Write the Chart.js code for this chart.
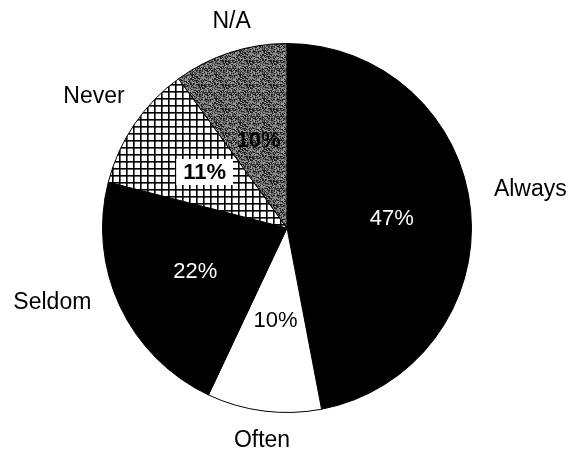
<!DOCTYPE html>
<html>
<head>
<meta charset="utf-8">
<script src="https://cdn.jsdelivr.net/npm/chart.js@4"></script>
<style>
  html, body { margin: 0; padding: 0; background: #fff; }
  canvas { display: block; }
</style>
</head>
<body>
<canvas id="pieChart" width="571" height="458"></canvas>
<script>
const categories = ['Always', 'Often', 'Seldom', 'Never', 'N/A'];
const shares = [47, 10, 22, 11, 10];

// label placement: angle shift (deg) and radius factor for the outer names,
// radius factor for the percentages inside the slices
const nameShift = [-3.5, -0.5, 7.5, 0, 3];
const nameRadius = [1.335, 1.16, 1.335, 1.265, 1.16];
const valueRadius = [0.57, 0.5, 0.55, 0.54, 0.5];
const valueColor = ['#fff', '#000', '#fff', '#000', '#000'];
const valueWeight = ['normal', 'normal', 'normal', 'bold', 'bold'];

function crosshatch() {
  const c = document.createElement('canvas');
  c.width = 7; c.height = 7;
  const g = c.getContext('2d');
  g.fillStyle = '#fff';
  g.fillRect(0, 0, 7, 7);
  g.fillStyle = '#000';
  g.fillRect(0, 0, 7, 1.6);
  g.fillRect(0, 0, 1.6, 7);
  return g.createPattern(c, 'repeat');
}

function stipple() {
  const c = document.createElement('canvas');
  c.width = 24; c.height = 24;
  const g = c.getContext('2d');
  const img = g.createImageData(24, 24);
  for (let j = 0; j < 24; j++) {
    for (let i = 0; i < 24; i++) {
      const h = Math.sin(i * 12.9898 + j * 78.233) * 43758.5453;
      const f = h - Math.floor(h);
      const v = f < 0.35 ? 35 : (f < 0.7 ? 100 : 150);
      const k = (j * 24 + i) * 4;
      img.data[k] = img.data[k + 1] = img.data[k + 2] = v;
      img.data[k + 3] = 255;
    }
  }
  g.putImageData(img, 0, 0);
  return g.createPattern(c, 'repeat');
}

const ctx = document.getElementById('pieChart').getContext('2d');
const fills = ['#000', '#fff', '#000', crosshatch(), stipple()];

const sliceLabels = {
  id: 'sliceLabels',
  afterDatasetsDraw(chart) {
    const g = chart.ctx;
    const arcs = chart.getDatasetMeta(0).data;
    g.save();
    g.textBaseline = 'middle';
    g.textAlign = 'center';
    arcs.forEach((arc, i) => {
      const mid = (arc.startAngle + arc.endAngle) / 2;
      const R = arc.outerRadius;

      // percentage inside the slice
      const vx = arc.x + Math.cos(mid) * R * valueRadius[i];
      const vy = arc.y + Math.sin(mid) * R * valueRadius[i];
      const txt = shares[i] + '%';
      g.font = valueWeight[i] + ' 22px "Liberation Sans", Arial, sans-serif';
      if (i === 3) {
        const w = g.measureText(txt).width;
        g.fillStyle = '#fff';
        g.fillRect(vx - w / 2 - 7, vy - 13, w + 14, 26);
      }
      g.fillStyle = valueColor[i];
      g.fillText(txt, vx, vy + 1);

      // category name outside the pie
      const a = mid + nameShift[i] * Math.PI / 180;
      const nx = arc.x + Math.cos(a) * R * nameRadius[i];
      const ny = arc.y + Math.sin(a) * R * nameRadius[i];
      g.font = '23px "Liberation Sans", Arial, sans-serif';
      g.fillStyle = '#000';
      g.fillText(categories[i], nx, ny);
    });
    g.restore();
  }
};

new Chart(ctx, {
  type: 'pie',
  data: {
    labels: categories,
    datasets: [{
      data: shares,
      backgroundColor: fills,
      borderColor: '#000',
      borderWidth: 1
    }]
  },
  options: {
    responsive: false,
    animation: false,
    layout: { padding: { top: 43, bottom: 45, left: 102, right: 99 } },
    plugins: {
      legend: { display: false },
      tooltip: { enabled: false }
    }
  },
  plugins: [sliceLabels]
});
</script>
</body>
</html>
